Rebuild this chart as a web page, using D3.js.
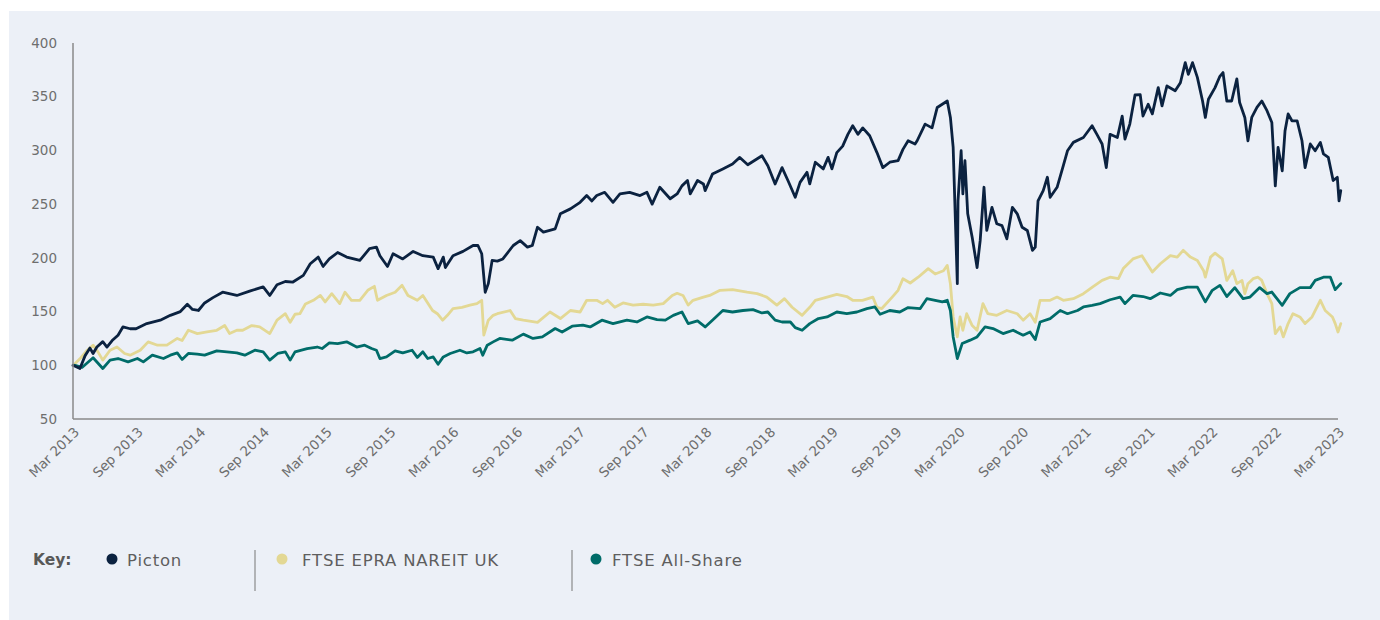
<!DOCTYPE html>
<html>
<head>
<meta charset="utf-8">
<script src="https://cdn.jsdelivr.net/npm/d3@7"></script>
<style>
  html, body { margin: 0; padding: 0; background: #ffffff; }
  svg { display: block; }
</style>
</head>
<body>
<svg id="chart" width="1380" height="620"></svg>
<script>
// ---------------- DATA ----------------
const seriesNames = ["Picton", "FTSE EPRA NAREIT UK", "FTSE All-Share"];
const seriesColors = ["#0b2240", "#e3d894", "#006c69"];
const yTicks = [50, 100, 150, 200, 250, 300, 350, 400];
const xTickLabels = ["Mar 2013","Sep 2013","Mar 2014","Sep 2014","Mar 2015","Sep 2015","Mar 2016","Sep 2016",
  "Mar 2017","Sep 2017","Mar 2018","Sep 2018","Mar 2019","Sep 2019","Mar 2020","Sep 2020",
  "Mar 2021","Sep 2021","Mar 2022","Sep 2022","Mar 2023"];
const xTickDates = ["2013-03-01","2013-09-01","2014-03-01","2014-09-01","2015-03-01","2015-09-01","2016-03-01","2016-09-01",
  "2017-03-01","2017-09-01","2018-03-01","2018-09-01","2019-03-01","2019-09-01","2020-03-01","2020-09-01",
  "2021-03-01","2021-09-01","2022-03-01","2022-09-01","2023-03-01"];

const picton = [
["2013-03-01",100],["2013-03-21",97],["2013-04-05",109],["2013-04-19",116],["2013-04-28",111],["2013-05-09",117],
["2013-05-26",122],["2013-06-07",117],["2013-06-22",123],["2013-07-09",128],["2013-07-23",135.7],["2013-08-13",134],
["2013-08-30",134],["2013-09-30",138.8],["2013-11-08",142],["2013-12-07",146.5],["2014-01-05",150],["2014-01-25",156.8],
["2014-02-09",152],["2014-02-26",151],["2014-03-16",158],["2014-04-09",163],["2014-05-07",168],["2014-06-17",165],
["2014-07-24",169],["2014-09-01",173],["2014-09-20",165],["2014-10-11",175],["2014-11-04",178],["2014-11-26",177.5],
["2014-12-26",183.7],["2015-01-15",194.5],["2015-02-07",200.7],["2015-02-21",192],["2015-03-11",199],["2015-04-04",205],
["2015-04-30",200.7],["2015-06-07",197.6],["2015-07-05",208.5],["2015-07-25",210],["2015-08-04",202],["2015-08-26",192],
["2015-09-11",203.8],["2015-10-09",199],["2015-11-08",206],["2015-12-06",202],["2016-01-05",200.7],["2016-01-19",190],
["2016-02-03",200.7],["2016-02-09",191],["2016-03-02",202],["2016-03-31",206],["2016-04-29",211.5],["2016-05-13",211.5],
["2016-05-24",203.8],["2016-06-03",168],["2016-06-12",176],["2016-06-23",197.6],["2016-07-08",197],["2016-07-24",199],
["2016-08-23",211.5],["2016-09-12",216],["2016-10-03",210],["2016-10-17",211.5],["2016-11-01",228.5],["2016-11-18",224],
["2016-12-22",227],["2017-01-06",241],["2017-02-04",245.6],["2017-03-04",251.7],["2017-03-23",258],["2017-04-07",253],
["2017-04-21",258],["2017-05-14",261],["2017-06-07",251.7],["2017-06-27",259.5],["2017-07-25",261],["2017-08-24",258],
["2017-09-13",261],["2017-09-28",250],["2017-10-20",265.7],["2017-11-19",255],["2017-12-09",259.5],["2017-12-23",267],
["2018-01-08",272],["2018-01-16",259.5],["2018-02-06",272],["2018-02-23",268.8],["2018-02-28",262.6],["2018-03-21",278],
["2018-04-20",282.8],["2018-05-18",287.4],["2018-06-08",293.5],["2018-07-01",286.7],["2018-08-11",295],["2018-08-28",285.8],
["2018-09-18",268.8],["2018-10-08",284],["2018-10-25",272],["2018-11-15",256.4],["2018-11-29",270.3],["2018-12-19",279.6],
["2018-12-27",268.8],["2019-01-12",289],["2019-02-04",282.8],["2019-02-18",293.5],["2019-03-01",282.8],["2019-03-15",298],
["2019-04-01",304],["2019-04-16",315],["2019-04-30",323],["2019-05-15",315],["2019-05-29",321],["2019-06-18",313.7],
["2019-07-09",298],["2019-07-26",284],["2019-08-15",289],["2019-09-08",290.5],["2019-09-22",301],["2019-10-07",309],
["2019-10-27",306],["2019-11-02",309],["2019-11-25",324.5],["2019-12-15",321],["2019-12-30",340],["2020-01-28",346],
["2020-02-06",330.7],["2020-02-14",302.8],["2020-02-26",176],["2020-02-28",253],["2020-03-08",299.7],["2020-03-13",259.5],
["2020-03-19",290.5],["2020-03-27",241],["2020-04-09",219],["2020-04-23",191],["2020-05-02",216],["2020-05-13",265.7],
["2020-05-21",225.5],["2020-06-05",247],["2020-06-19",231.7],["2020-07-04",230],["2020-07-18",217.7],["2020-08-03",247],
["2020-08-17",241],["2020-08-31",228.5],["2020-09-15",225.5],["2020-09-30",207],["2020-10-08",210],["2020-10-16",253],
["2020-10-31",262.6],["2020-11-12",275],["2020-11-20",256.4],["2020-12-10",265.7],["2020-12-28",285.8],["2021-01-09",299.7],
["2021-01-26",307.5],["2021-02-24",312],["2021-03-21",323],["2021-04-04",315],["2021-04-19",306],["2021-05-01",284],
["2021-05-12",315],["2021-06-02",312],["2021-06-16",332],["2021-06-24",310.6],["2021-07-08",324.5],["2021-07-23",351.6],
["2021-08-07",352],["2021-08-15",332],["2021-08-30",343],["2021-09-11",334],["2021-09-28",358.5],["2021-10-09",341.5],
["2021-10-23",360],["2021-11-16",355.5],["2021-12-01",363],["2021-12-15",381.7],["2021-12-24",370.8],["2022-01-05",381.7],
["2022-01-19",368],["2022-02-03",346],["2022-02-11",330.7],["2022-02-20",347.6],["2022-03-11",358.5],["2022-03-25",369],
["2022-04-03",372.5],["2022-04-14",346],["2022-04-28",346],["2022-05-13",366.6],["2022-05-21",344.6],["2022-06-05",330.7],
["2022-06-14",309],["2022-06-25",330.7],["2022-07-10",340],["2022-07-24",346],["2022-08-08",337],["2022-08-22",326],
["2022-09-01",267],["2022-09-09",302.8],["2022-09-21",281],["2022-09-29",318],["2022-10-08",334],["2022-10-19",327.6],
["2022-11-03",327.6],["2022-11-17",309],["2022-11-26",284],["2022-12-11",306],["2022-12-25",299.7],["2023-01-09",307.5],
["2023-01-18",296.7],["2023-02-01",293.5],["2023-02-15",272],["2023-02-27",275],["2023-03-04",253],["2023-03-09",262.6]
];

const epra = [
["2013-03-07",101.7],["2013-03-21",106],["2013-04-11",114],["2013-04-28",118.7],["2013-05-12",112.5],["2013-05-26",104.8],
["2013-06-16",114],["2013-07-06",117],["2013-07-28",111],["2013-08-13",109.4],["2013-09-11",114],["2013-10-04",121.8],
["2013-10-31",118.7],["2013-11-27",118.7],["2013-12-27",125],["2014-01-10",123],["2014-01-28",132.6],["2014-02-23",129.5],
["2014-03-23",131],["2014-04-20",132.6],["2014-05-13",137],["2014-05-27",129.5],["2014-06-17",132.6],["2014-07-04",132.6],
["2014-07-30",137],["2014-08-22",135.7],["2014-09-20",129.5],["2014-10-11",142],["2014-11-04",148],["2014-11-18",140],
["2014-12-02",147.5],["2014-12-16",148],["2015-01-01",157],["2015-01-24",160.5],["2015-02-13",165],["2015-02-27",159],
["2015-03-18",166.7],["2015-04-10",157.4],["2015-04-25",168],["2015-05-14",160.5],["2015-06-07",160.5],["2015-06-30",169.8],
["2015-07-19",173.5],["2015-07-28",160.5],["2015-08-23",165],["2015-09-17",168],["2015-10-07",174.4],["2015-10-24",165],
["2015-11-20",160.5],["2015-12-06",165],["2016-01-03",151],["2016-01-17",148],["2016-02-01",142],["2016-02-15",146.5],
["2016-03-02",152.8],["2016-03-28",154],["2016-04-20",156],["2016-05-10",157.4],["2016-05-24",160.5],["2016-05-30",128],
["2016-06-12",142],["2016-06-26",146.5],["2016-07-08",148],["2016-08-14",151],["2016-08-29",143.5],["2016-09-21",142],
["2016-11-01",140],["2016-12-07",149.6],["2017-01-06",143.5],["2017-02-04",151],["2017-03-04",149.6],["2017-03-23",160.5],
["2017-04-21",160.5],["2017-05-08",157.4],["2017-05-22",160.5],["2017-06-12",154],["2017-07-06",158],["2017-08-04",156],
["2017-09-02",156.8],["2017-10-01",156],["2017-10-30",157.4],["2017-11-25",165],["2017-12-09",167],["2017-12-26",165],
["2018-01-10",156],["2018-01-24",160.5],["2018-02-23",163.5],["2018-03-13",165],["2018-04-12",169.8],["2018-05-18",170.4],
["2018-06-29",168],["2018-07-28",166.7],["2018-08-25",163.5],["2018-09-23",156],["2018-10-15",162],["2018-11-06",154],
["2018-12-05",146.5],["2018-12-27",154],["2019-01-12",160.5],["2019-02-15",163.5],["2019-03-15",166],["2019-04-13",164],
["2019-04-30",160.5],["2019-05-28",160.5],["2019-06-27",163.5],["2019-07-09",154],["2019-07-23",152.8],["2019-08-22",163.5],
["2019-09-08",169.8],["2019-09-22",180.6],["2019-10-13",176.6],["2019-11-05",182],["2019-12-04",190],["2019-12-24",185],
["2020-01-17",188],["2020-01-28",193],["2020-02-06",176],["2020-02-14",145],["2020-02-26",126.4],["2020-03-05",145],
["2020-03-13",132.6],["2020-03-24",148],["2020-04-09",137],["2020-04-23",132.6],["2020-05-10",157.4],["2020-05-24",148],
["2020-06-19",146.5],["2020-07-18",151],["2020-08-17",148],["2020-09-03",142],["2020-09-23",148],["2020-10-08",140],
["2020-10-22",160.5],["2020-11-20",160.5],["2020-12-10",163.5],["2020-12-28",160.5],["2021-01-26",162],["2021-02-24",166.7],
["2021-03-23",173],["2021-04-19",179],["2021-05-12",182],["2021-06-05",180.6],["2021-06-19",190],["2021-07-17",199],
["2021-08-12",202],["2021-09-11",186.8],["2021-10-04",194.5],["2021-11-02",202],["2021-11-22",200.7],["2021-12-09",207],
["2021-12-30",200.7],["2022-01-19",197.6],["2022-02-06",188],["2022-02-11",182],["2022-02-26",200.7],["2022-03-11",204.4],
["2022-04-01",199],["2022-04-14",179],["2022-05-01",188],["2022-05-13",176],["2022-05-28",179],["2022-06-05",166.7],
["2022-06-14",176],["2022-06-29",180.6],["2022-07-13",182],["2022-07-24",179],["2022-08-08",166.7],["2022-08-22",157.4],
["2022-09-01",129.5],["2022-09-15",135.7],["2022-09-24",126.4],["2022-10-08",138.8],["2022-10-22",148],["2022-11-11",145],
["2022-11-26",138.8],["2022-12-16",145],["2023-01-09",160.5],["2023-01-23",151],["2023-02-13",145],["2023-02-21",138.8],
["2023-03-01",131],["2023-03-09",138.8]
];

const allShare = [
["2013-03-07",100],["2013-03-27",98],["2013-04-28",107],["2013-05-26",97],["2013-06-16",104.8],["2013-07-09",106.3],
["2013-08-07",103.2],["2013-09-03",106.3],["2013-09-20",103.2],["2013-10-16",109.4],["2013-11-17",106.3],["2013-12-07",109.4],
["2013-12-27",111.5],["2014-01-10",105.4],["2014-01-28",111],["2014-02-23",110.3],["2014-03-16",109.4],["2014-04-20",113.4],
["2014-05-19",112.5],["2014-06-17",111.5],["2014-07-10",109.4],["2014-08-08",114],["2014-09-01",112.5],["2014-09-20",104.8],
["2014-10-13",111],["2014-11-04",112.5],["2014-11-18",104.8],["2014-12-02",112.5],["2015-01-06",115.6],["2015-02-04",117],
["2015-02-18",115.6],["2015-03-11",120.8],["2015-04-04",120.2],["2015-04-30",121.8],["2015-05-29",117],["2015-06-21",118.7],
["2015-07-11",115.6],["2015-07-25",114],["2015-08-04",106.3],["2015-08-23",107.8],["2015-09-17",113.4],["2015-10-09",111.5],
["2015-11-05",114],["2015-11-20",107.3],["2015-12-06",112.5],["2015-12-20",106.3],["2016-01-05",107.8],["2016-01-19",101],
["2016-02-03",107.8],["2016-02-23",111],["2016-03-22",114],["2016-04-11",111.5],["2016-04-29",112.5],["2016-05-19",115.6],
["2016-05-27",109.4],["2016-06-09",118.7],["2016-06-26",121.8],["2016-07-15",125],["2016-08-20",123.4],["2016-09-21",129],
["2016-10-19",125],["2016-11-15",126.4],["2016-12-22",134.2],["2017-01-11",131],["2017-02-09",136.4],["2017-03-12",137.3],
["2017-04-02",135.7],["2017-05-06",142],["2017-06-07",138.8],["2017-07-17",142],["2017-08-15",140.3],["2017-09-13",145],
["2017-10-12",142.6],["2017-11-05",142],["2017-11-28",146.5],["2017-12-23",149.6],["2018-01-10",138.8],["2018-02-06",141.3],
["2018-02-28",135.7],["2018-03-21",142],["2018-04-20",151],["2018-05-18",149.6],["2018-06-17",151],["2018-07-16",151.8],
["2018-08-11",148.7],["2018-08-28",149.6],["2018-09-18",142],["2018-10-08",140.3],["2018-11-01",140.3],["2018-11-15",135],
["2018-12-05",132.6],["2018-12-27",138.8],["2019-01-21",143.5],["2019-02-15",145],["2019-03-15",149.6],["2019-04-13",148],
["2019-05-12",149.6],["2019-06-10",152.8],["2019-07-03",154.3],["2019-07-18",147.5],["2019-08-15",151],["2019-09-13",149.6],
["2019-10-07",153.7],["2019-11-11",152.8],["2019-11-30",162],["2019-12-24",160.5],["2020-01-14",159],["2020-01-28",160.5],
["2020-02-06",151],["2020-02-14",126.4],["2020-02-26",106.3],["2020-03-11",120.2],["2020-04-03",123.4],["2020-04-23",126.4],
["2020-05-16",135.7],["2020-06-08",134.2],["2020-07-07",129.5],["2020-08-05",132.6],["2020-09-03",128],["2020-09-23",131],
["2020-10-08",124],["2020-10-22",140.3],["2020-11-20",143.5],["2020-12-19",151],["2021-01-09",148],["2021-02-07",151],
["2021-02-24",154.3],["2021-03-21",155.8],["2021-04-13",157.4],["2021-05-12",161],["2021-06-10",163.5],["2021-06-24",157.4],
["2021-07-17",165],["2021-08-15",164],["2021-09-05",162],["2021-10-04",167.3],["2021-11-02",165],["2021-11-22",170.4],
["2021-12-21",172.8],["2022-01-19",172.8],["2022-02-11",159],["2022-03-03",169.8],["2022-03-25",174.4],["2022-04-14",164],
["2022-05-07",172.3],["2022-05-31",162],["2022-06-20",163.5],["2022-07-18",172.3],["2022-08-08",166.7],["2022-08-22",168.2],
["2022-09-21",155.8],["2022-10-13",166.7],["2022-11-11",172.3],["2022-12-11",172.3],["2022-12-25",179],["2023-01-18",182],
["2023-02-07",182],["2023-02-21",170.4],["2023-03-09",176]
];

// ---------------- CHART ----------------
const parse = d3.timeParse("%Y-%m-%d");
const svg = d3.select("#chart");

svg.append("rect").attr("x", 9).attr("y", 11).attr("width", 1371).attr("height", 609).attr("fill", "#ecf0f7");

const x = d3.scaleTime().domain([parse("2013-03-01"), parse("2023-03-01")]).range([73, 1338]);
const y = d3.scaleLinear().domain([50, 400]).range([419, 43]);

const tickFont = "'DejaVu Sans', sans-serif";
const grey = "#6e6e6e";

// Y labels
svg.append("g").selectAll("text").data(yTicks).join("text")
  .attr("x", 57).attr("y", d => y(d)).attr("dy", "0.35em")
  .attr("text-anchor", "end").attr("font-family", tickFont).attr("font-size", 13.5)
  .attr("fill", grey).text(d => d);

// X labels
svg.append("g").selectAll("text").data(xTickDates).join("text")
  .attr("transform", d => `translate(${x(parse(d)) + 7},${433}) rotate(-45)`)
  .attr("text-anchor", "end").attr("font-family", tickFont).attr("font-size", 13.5)
  .attr("fill", grey).text((d, i) => xTickLabels[i]);

// Lines
const line = d3.line().x(d => x(parse(d[0]))).y(d => y(d[1]));
const order = [[epra, 1], [allShare, 2], [picton, 0]];
order.forEach(([data, ci]) => {
  svg.append("path").datum(data).attr("d", line)
    .attr("fill", "none").attr("stroke", seriesColors[ci])
    .attr("stroke-width", 2.8).attr("stroke-linejoin", "round").attr("stroke-linecap", "round");
});

// Axes lines
svg.append("line").attr("x1", 73).attr("x2", 73).attr("y1", y(400)).attr("y2", y(50))
  .attr("stroke", "#8a8a8a").attr("stroke-width", 1.5);
svg.append("line").attr("x1", 73).attr("x2", x(parse("2023-03-01"))).attr("y1", y(50)).attr("y2", y(50))
  .attr("stroke", "#8a8a8a").attr("stroke-width", 1.5);

// Legend
const lg = svg.append("g").attr("font-family", tickFont);
lg.append("text").attr("x", 33).attr("y", 560).attr("dy", "0.35em").attr("font-size", 15.5)
  .attr("font-weight", "bold").attr("fill", "#585858").text("Key:");
const legendDotX = [112, 282, 596];
const legendTextX = [127, 302, 612];
seriesNames.forEach((name, i) => {
  lg.append("circle").attr("cx", legendDotX[i]).attr("cy", 559).attr("r", 5.5).attr("fill", seriesColors[i]);
  lg.append("text").attr("x", legendTextX[i]).attr("y", 560).attr("dy", "0.35em")
    .attr("font-size", 16.5).attr("letter-spacing", 0.8).attr("fill", "#5e5e5e").text(name);
});
[255, 572].forEach(sx => {
  lg.append("line").attr("x1", sx).attr("x2", sx).attr("y1", 550).attr("y2", 591)
    .attr("stroke", "#8a8a8a").attr("stroke-width", 1.2);
});
</script>
</body>
</html>
